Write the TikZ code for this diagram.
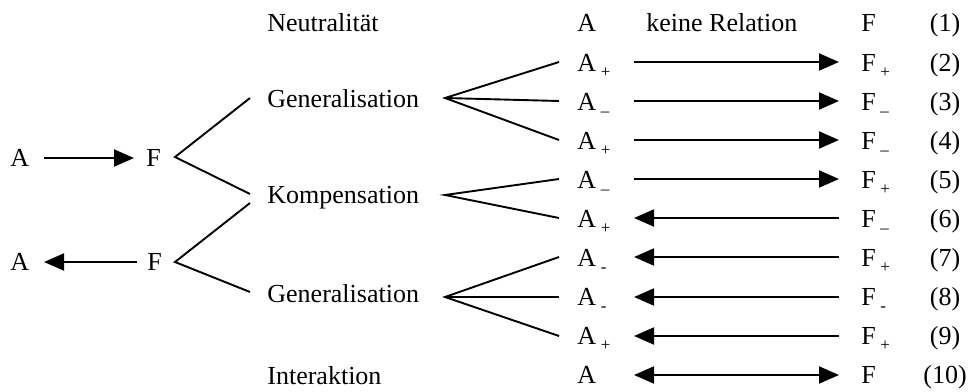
\documentclass[tikz,border=0pt]{standalone}
\usepackage{fontspec}
\setmainfont{Liberation Serif}
\usetikzlibrary{arrows.meta}
\newcommand\sbs[1]{\kern2.3pt\raisebox{-3pt}{\fontsize{8.5pt}{9pt}\selectfont #1}}
\begin{document}
\begin{tikzpicture}[x=0.5pt,y=-0.5pt,
  txt/.style={inner sep=0pt,anchor=base west,font=\fontsize{13pt}{15pt}\selectfont},
  num/.style={inner sep=0pt,anchor=base,font=\fontsize{13pt}{15pt}\selectfont},
  ln/.style={line width=0.95pt},
  arr/.style={line width=0.95pt,-{Triangle[length=10pt,width=8.5pt]}},
  darr/.style={line width=0.95pt,{Triangle[length=10pt,width=8.5pt]}-{Triangle[length=10pt,width=8.5pt]}}]
\useasboundingbox (0,0) rectangle (973,391);
% left part
\node[txt] (A1) at (10,166) {A};
\node[txt] (F1) at (146,166) {F};
\node[txt] (A2) at (10,270) {A};
\node[txt] (F2) at (147,270) {F};
\coordinate (a1s) at (44,158);
\coordinate (a1e) at (134,158);
\coordinate (a2s) at (137,262);
\coordinate (a2e) at (44,262);
\draw[arr] (a1s) -- (a1e);
\draw[arr] (a2s) -- (a2e);
% middle labels
\node[txt] (neut) at (267,32) {Neutralität};
\node[txt] (gen1) at (267,107) {Generalisation};
\node[txt] (komp) at (267,203) {Kompensation};
\node[txt] (gen2) at (267,302) {Generalisation};
\node[txt] (inter) at (267,384) {Interaktion};
% branches from F
\coordinate (f1p) at (175,157);
\coordinate (f2p) at (175,262);
\coordinate (g1l) at (250,98);
\coordinate (k1l) at (250,194);
\coordinate (k2l) at (250,203);
\coordinate (g2l) at (250,292);
\draw[ln] (g1l) -- (f1p) -- (k1l);
\draw[ln] (k2l) -- (f2p) -- (g2l);
% fan apexes
\coordinate (g1r) at (445,98);
\coordinate (kr) at (445,195);
\coordinate (g2r) at (445,297);
% rows
\foreach \k/\y in {2/62,3/101,4/140,5/179,6/218,7/257,8/297,9/336,10/375}{
  \coordinate (l\k) at (559,\y);
  \coordinate (s\k) at (634,\y);
  \coordinate (e\k) at (839,\y);
}
% row texts
\node[txt] (ra1) at (577,31.9) {A};
\node[txt] (rel) at (646,31.9) {keine Relation};
\node[txt] (rf1) at (861,31.9) {F};
\node[txt] (ra2) at (577,71) {A\sbs{+}};
\node[txt] (rf2) at (861,71) {F\sbs{+}};
\node[txt] (ra3) at (577,110.1) {A\sbs{–}};
\node[txt] (rf3) at (861,110.1) {F\sbs{–}};
\node[txt] (ra4) at (577,149.2) {A\sbs{+}};
\node[txt] (rf4) at (861,149.2) {F\sbs{–}};
\node[txt] (ra5) at (577,188.3) {A\sbs{–}};
\node[txt] (rf5) at (861,188.3) {F\sbs{+}};
\node[txt] (ra6) at (577,227.4) {A\sbs{+}};
\node[txt] (rf6) at (861,227.4) {F\sbs{–}};
\node[txt] (ra7) at (577,266.5) {A\sbs{-}};
\node[txt] (rf7) at (861,266.5) {F\sbs{+}};
\node[txt] (ra8) at (577,305.6) {A\sbs{-}};
\node[txt] (rf8) at (861,305.6) {F\sbs{-}};
\node[txt] (ra9) at (577,344.7) {A\sbs{+}};
\node[txt] (rf9) at (861,344.7) {F\sbs{+}};
\node[txt] (ra10) at (577,383.8) {A};
\node[txt] (rf10) at (861,383.8) {F};
\foreach \k in {1,...,10}{
  \node[num] (n\k) at (945,{31.9+39.1*(\k-1)}) {(\k)};
}
% fans
\draw[ln] (l2) -- (g1r) -- (l4);
\draw[ln] (g1r) -- (l3);
\draw[ln] (l5) -- (kr) -- (l6);
\draw[ln] (l7) -- (g2r) -- (l9);
\draw[ln] (g2r) -- (l8);
% arrows
\foreach \k in {2,...,5}{\draw[arr] (s\k) -- (e\k);}
\foreach \k in {6,...,9}{\draw[arr] (e\k) -- (s\k);}
\draw[darr] (s10) -- (e10);
\end{tikzpicture}
\end{document}
